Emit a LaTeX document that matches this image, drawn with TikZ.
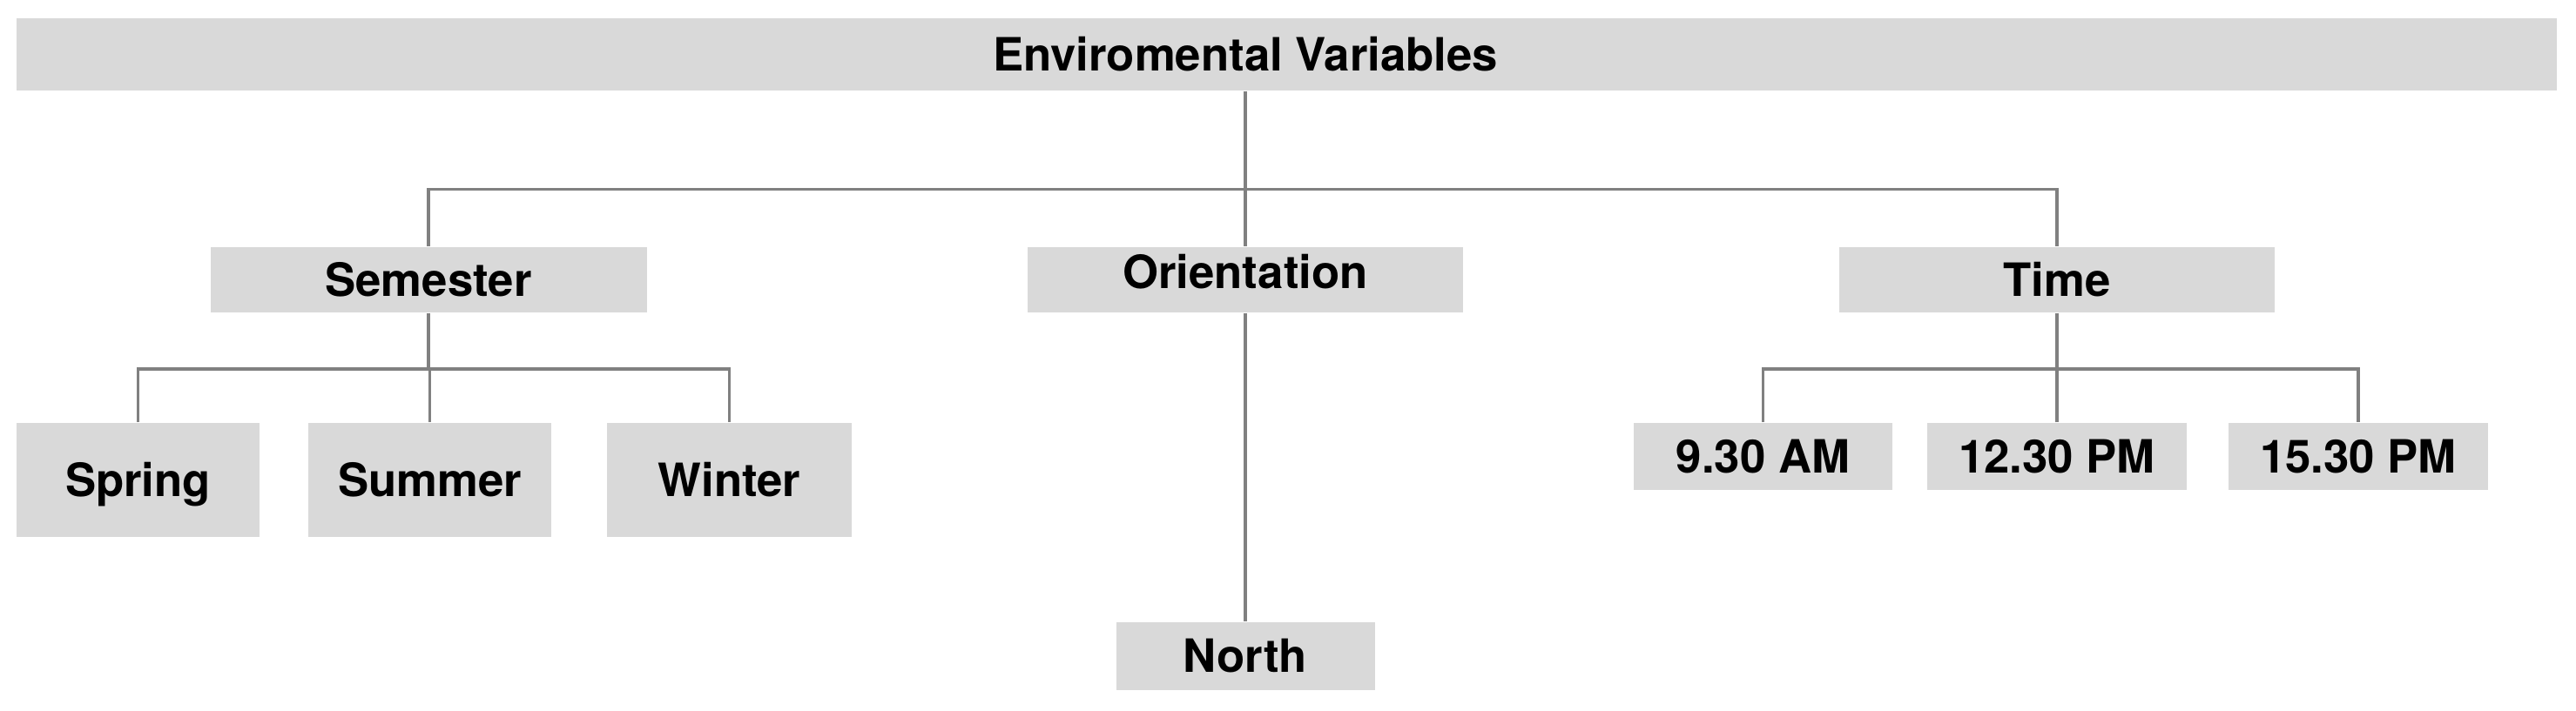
\documentclass[tikz,border=0pt]{standalone}
\usepackage{fontspec}
\setmainfont{TeX Gyre Heros}
\usepackage{tikz}
\definecolor{boxgray}{HTML}{D9D9D9}
\definecolor{linegray}{HTML}{808080}

\begin{document}
\begin{tikzpicture}[box/.style={fill=boxgray, inner sep=0pt, text height=10.8pt, text depth=0pt, font=\fontsize{15}{18}\selectfont\bfseries}, link/.style={draw=linegray, line width=0.9pt}]
\useasboundingbox (0,0) rectangle (29.58,-8.16);

\node [box, minimum width=29.17cm, minimum height=0.83cm] (bar) at (14.775,-0.625) {};
\node [box, fill=none, minimum height=0.83cm] (env) at (14.30,-0.625) {Enviromental Variables};

\node [box, minimum width=5.01cm, minimum height=0.75cm] (semester) at (4.92,-3.215) {Semester};
\node [box, minimum width=5.00cm, minimum height=0.75cm, text depth=5.4pt] (orientation) at (14.30,-3.215) {Orientation};
\node [box, minimum width=5.00cm, minimum height=0.75cm] (time) at (23.62,-3.215) {Time};

\node [box, minimum width=2.79cm, minimum height=1.31cm] (spring) at (1.585,-5.515) {Spring};
\node [box, minimum width=2.79cm, minimum height=1.31cm] (summer) at (4.935,-5.515) {Summer};
\node [box, minimum width=2.81cm, minimum height=1.31cm] (winter) at (8.375,-5.515) {Winter};

\node [box, minimum width=2.97cm, minimum height=0.78cm] (north) at (14.30,-7.54) {North};

\node [box, minimum width=2.97cm, minimum height=0.77cm] (am930) at (20.245,-5.245) {9.30 AM};
\node [box, minimum width=2.98cm, minimum height=0.77cm] (pm1230) at (23.62,-5.245) {12.30 PM};
\node [box, minimum width=2.98cm, minimum height=0.77cm] (pm1530) at (27.08,-5.245) {15.30 PM};

\coordinate (topjoin) at (14.30,-2.175); \coordinate (semjoin) at (4.92,-4.24); \coordinate (timejoin) at (23.62,-4.24);

\draw [link] (env.south) -- (orientation.north);
\draw [link] (semester.north) |- (topjoin) -| (time.north);
\draw [link] (orientation.south) -- (north.north);

\draw [link] (semester.south) -- (semjoin); \draw [link] (spring.north) |- (semjoin) -| (winter.north);
\draw [link] (summer.north) -- (summer.north |- semjoin);

\draw [link] (time.south) -- (timejoin); \draw [link] (am930.north) |- (timejoin) -| (pm1530.north);
\draw [link] (pm1230.north) -- (timejoin);

\end{tikzpicture}
\end{document}
